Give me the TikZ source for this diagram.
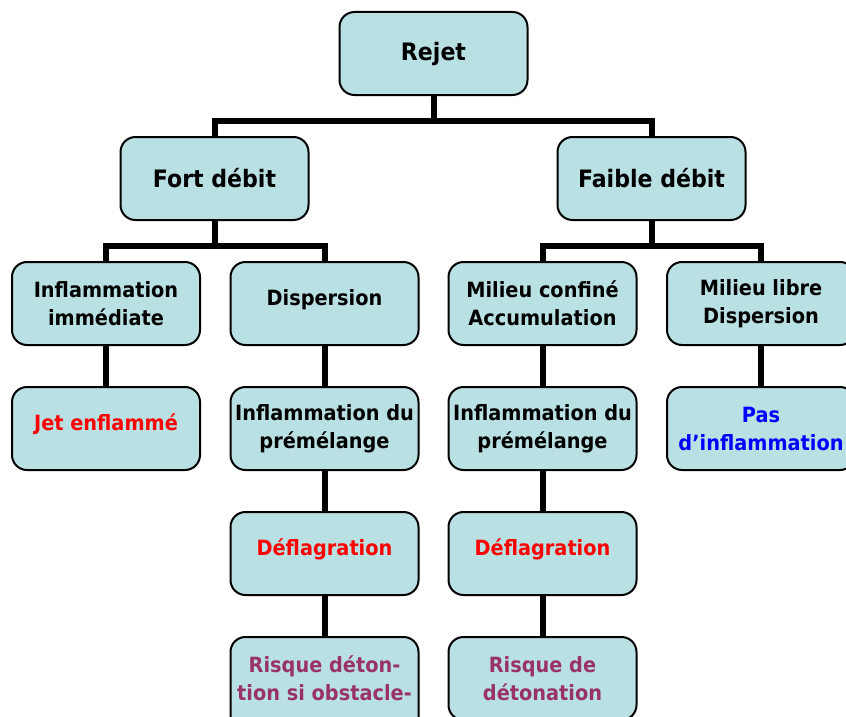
\documentclass[tikz,border=0pt]{standalone}
\usepackage{fontspec}
\setmainfont{DejaVu Sans}[FakeStretch=0.92]
\definecolor{boxfill}{RGB}{185,224,227}
\definecolor{txtred}{RGB}{255,0,0}
\definecolor{txtblue}{RGB}{0,0,255}
\definecolor{txtpurple}{RGB}{153,51,102}
\begin{document}
\begin{tikzpicture}[x=1pt,y=-1pt,
  box/.style={draw=black, line width=2pt, fill=boxfill, rounded corners=15pt,
    minimum width=188pt, minimum height=83pt, inner sep=2pt, align=center,
    font=\fontsize{21}{28}\selectfont\bfseries},
  big/.style={font=\fontsize{24}{30}\selectfont\bfseries},
  single/.style={text height=16pt, text depth=12pt},
  link/.style={line width=6pt, line join=miter}]
\useasboundingbox (0,0) rectangle (846,717);
\clip (0,0) rectangle (846,717);
\node[box,big] (rejet) at (433.5,53.5) {Rejet};
\node[box,big] (fort) at (214.5,178.5) {Fort débit};
\node[box,big] (faible) at (651.5,178.5) {Faible débit};
\node[box] (infl) at (106,303.5) {Inflammation\\immédiate};
\node[box,single] (disp) at (324.5,303.5) {Dispersion};
\node[box] (conf) at (542.5,303.5) {Milieu confiné\\Accumulation};
\node[box] (libre) at (761,303.5) {Milieu libre\\Dispersion};
\node[box,single,text=txtred] (jet) at (106,428.5) {Jet enflammé};
\node[box] (prem1) at (324.5,428.5) {Inflammation du\\prémélange};
\node[box] (prem2) at (542.5,428.5) {Inflammation du\\prémélange};
\node[box,text=txtblue] (pas) at (761,428.5) {Pas\\d’inflammation};
\node[box,single,text=txtred] (defl1) at (324.5,553.5) {Déflagration};
\node[box,single,text=txtred] (defl2) at (542.5,553.5) {Déflagration};
\node[box,text=txtpurple,minimum height=110pt] (risk1) at (324.5,692) {Risque déton-\\tion si obstacle-\\\mbox{}};
\node[box,text=txtpurple] (risk2) at (542.5,678.5) {Risque de\\détonation};
\begin{scope}[link]
\draw (rejet.south) -- ++(0,25) -| (fort.north);
\draw (rejet.south) -- ++(0,25) -| (faible.north);
\draw (fort.south) -- ++(0,25) -| (infl.north);
\draw (fort.south) -- ++(0,25) -| (disp.north);
\draw (faible.south) -- ++(0,25) -| (conf.north);
\draw (faible.south) -- ++(0,25) -| (libre.north);
\draw (infl.south) -- (jet.north);
\draw (disp.south) -- (prem1.north);
\draw (prem1.south) -- (defl1.north);
\draw (defl1.south) -- (risk1.north);
\draw (conf.south) -- (prem2.north);
\draw (prem2.south) -- (defl2.north);
\draw (defl2.south) -- (risk2.north);
\draw (libre.south) -- (pas.north);
\end{scope}
\end{tikzpicture}
\end{document}
